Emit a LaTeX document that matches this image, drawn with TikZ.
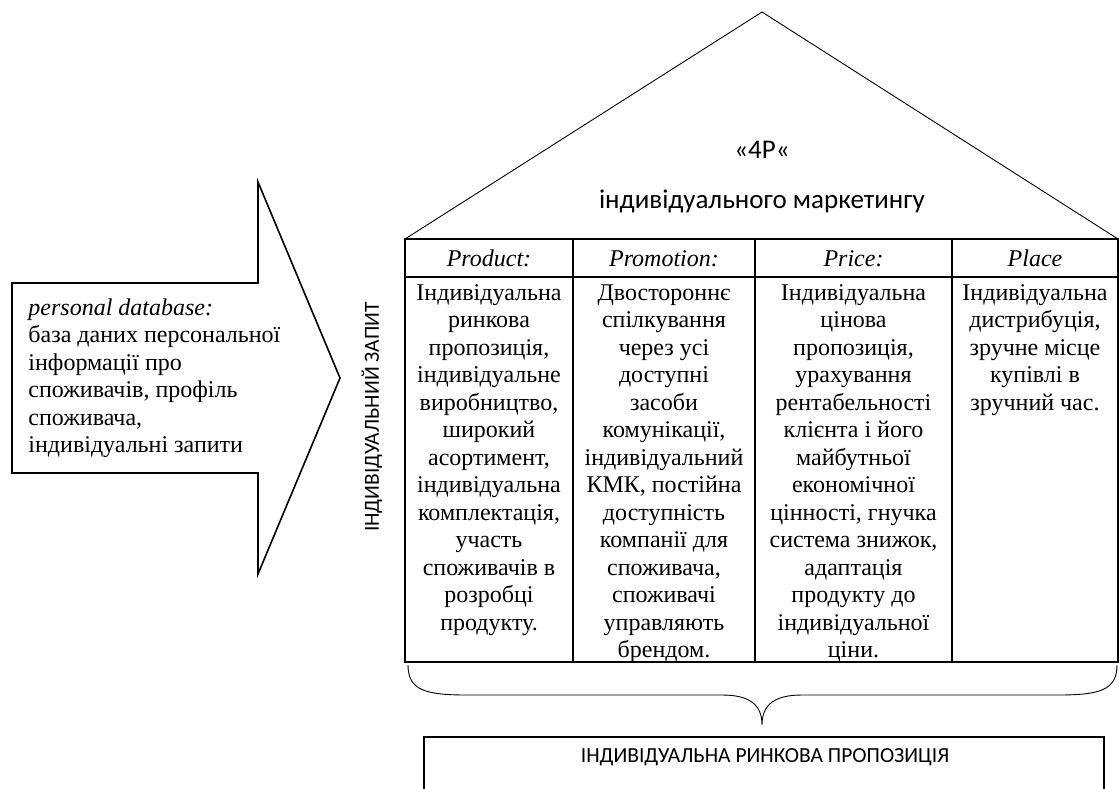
\documentclass[tikz,border=0pt]{standalone}
\usepackage{fontspec}
\setmainfont{Liberation Serif}
\newfontfamily\calib{Carlito}
\usetikzlibrary{positioning,calc}

\begin{document}
\begin{tikzpicture}[x=1pt, y=-1pt, line width=0.9pt,
    cell/.style={anchor=north, align=center, inner sep=0pt, font=\fontsize{24}{27.5}\selectfont},
    head/.style={anchor=base, inner sep=0pt, font=\fontsize{24}{27.5}\selectfont\itshape},
    sans/.style={inner sep=0pt, font=\calib\fontsize{27}{30}\selectfont},
    small sans/.style={inner sep=0pt, font=\calib\fontsize{21.5}{25}\selectfont}]
  \useasboundingbox (0,0) rectangle (1120,788);
  % roof
  \coordinate (apex) at (762,12);
  \coordinate (tl) at (405,239);
  \coordinate (tr) at (1118,239);
  \draw (tl) -- (apex) -- (tr);
  \node[sans] (fourp) at (762,150) {«4P«};
  \node[sans] (title) at (762,201) {індивідуального маркетингу};
  % table
  \coordinate (bl) at (405,662);
  \draw[line width=1.3pt] (tl) rectangle (tr |- bl);
  \draw[line width=1.3pt] (405,277) -- (1118,277);
  \foreach \xx in {573,755,952} {
    \draw[line width=1.3pt] (\xx,239) -- (\xx,662);
  }
  \node[head] (product) at (489,266) {Product:};
  \node[head] (promotion) at (664,266) {Promotion:};
  \node[head] (price) at (853.5,266) {Price:};
  \node[head] (place) at (1035,266) {Place};
  \node[cell] (productT) at (489,284) {Індивідуальна\\ринкова\\пропозиція,\\індивідуальне\\виробництво,\\широкий\\асортимент,\\індивідуальна\\комплектація,\\участь\\споживачів в\\розробці\\продукту.};
  \node[cell] (promotionT) at (664,284) {Двостороннє\\спілкування\\через усі\\доступні\\засоби\\комунікації,\\індивідуальний\\КМК, постійна\\доступність\\компанії для\\споживача,\\споживачі\\управляють\\брендом.};
  \node[cell] (priceT) at (853.5,284) {Індивідуальна\\цінова\\пропозиція,\\урахування\\рентабельності\\клієнта і його\\майбутньої\\економічної\\цінності, гнучка\\система знижок,\\адаптація\\продукту до\\індивідуальної\\ціни.};
  \node[cell] (placeT) at (1035,284) {Індивідуальна\\дистрибуція,\\зручне місце\\купівлі в\\зручний час.};
  % input arrow
  \draw[line width=1.6pt] (12,283) -- (258,283) -- (258,182) -- (340,378)
    -- (258,574) -- (258,473) -- (12,473) -- cycle;
  \node[cell, anchor=north west, align=left] (base) at (28,298)
    {\textit{personal database:}\\база даних персональної\\інформації про\\споживачів, профіль\\споживача,\\індивідуальні запити};
  \node[small sans, rotate=90] (query) at (372,417) {ІНДИВІДУАЛЬНИЙ ЗАПИТ};
  % brace
  \coordinate (brl) at (408,665);
  \coordinate (brr) at (1117,665);
  \coordinate (brtip) at (762,725);
  \draw (brl) .. controls (408,690) and (425,695) .. (467,695) -- (722,695)
    .. controls (750,695) and (762,705) .. (brtip)
    .. controls (762,705) and (774,695) .. (802,695) -- (1058,695)
    .. controls (1100,695) and (1117,690) .. (brr);
  % result
  \draw[line width=1.3pt] (424,792) -- (424,737) -- (1104,737) -- (1104,792);
  \node[small sans] (offer) at (765,757) {ІНДИВІДУАЛЬНА РИНКОВА ПРОПОЗИЦІЯ};
\end{tikzpicture}
\end{document}
